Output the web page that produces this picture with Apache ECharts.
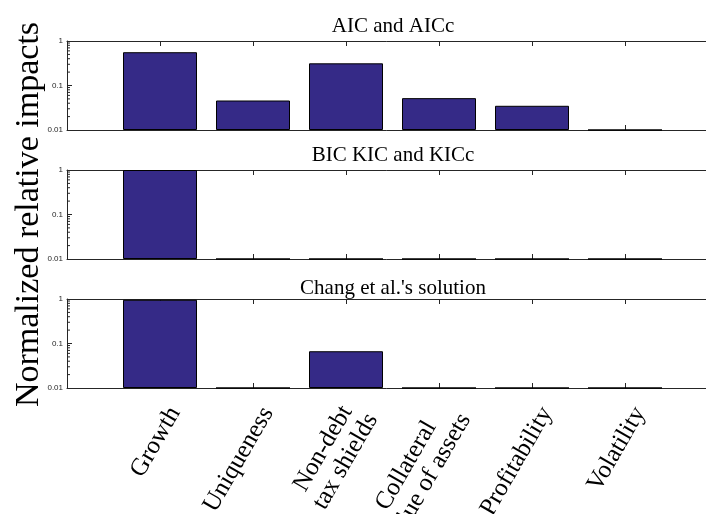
<!DOCTYPE html>
<html>
<head>
<meta charset="utf-8">
<script src="https://cdn.jsdelivr.net/npm/echarts@6/dist/echarts.min.js"></script>
<style>
  html, body { margin: 0; padding: 0; background: #fff; }
  #chart { width: 706px; height: 514px; }
</style>
</head>
<body>
<div id="chart"></div>
<script>
// Factor names (x positions 1..6 on a 0..7 axis)
const categories = ['Growth', 'Uniqueness', 'Non-debt\ntax shields', 'Collateral\nvalue of assets', 'Profitability', 'Volatility'];
const categoryPositions = [1, 2, 3, 4, 5, 6];

// Normalized relative impacts per criterion (0.01 = at the axis floor)
const aicValues   = [0.56, 0.046, 0.315, 0.052, 0.035, 0.01];
const bicValues   = [1.0, 0.01, 0.01, 0.01, 0.01, 0.01];
const changValues = [0.96, 0.01, 0.067, 0.01, 0.01, 0.01];

const panelTitles = ['AIC and AICc', 'BIC KIC and KICc', "Chang et al.'s solution"];
const yTickValues = [0.01, 0.1, 1];
const yAxisTitle = 'Normalized relative impacts';

const panels = [aicValues, bicValues, changValues];

// log-axis minor ticks at 2..9 of each decade
const minorTicks = [];
for (let d = 0.01; d < 1; d *= 10) {
  for (let k = 2; k <= 9; k++) minorTicks.push(+(d * k).toPrecision(3));
}

const AXIS_COLOR = '#262626';
const BAR_COLOR = '#352a87';
const SERIF = 'Liberation Serif';

const gridTops = [41, 170, 299];
const titleTops = [11, 140, 273];
const gridHeight = 89;
// rotated factor names sit a little right of / below their tick
const LABEL_SHIFT = 0.16;

const chart = echarts.init(document.getElementById('chart'), null, { renderer: 'canvas' });

const grid = [], xAxis = [], yAxis = [], series = [], title = [];

panels.forEach((vals, i) => {
  grid.push({
    left: 67, top: gridTops[i], width: 651, height: gridHeight,
    containLabel: false, outerBoundsMode: 'none'
  });

  // bottom border with inward ticks
  xAxis.push({
    type: 'value', gridIndex: i, min: 0, max: 7, interval: 1, position: 'bottom',
    axisLine: { show: true, onZero: false, lineStyle: { color: AXIS_COLOR, width: 1 } },
    axisTick: { show: true, inside: true, length: 5, lineStyle: { color: AXIS_COLOR } },
    splitLine: { show: false },
    axisLabel: { show: false }
  });
  // top border
  xAxis.push({
    type: 'value', gridIndex: i, min: 0, max: 7, interval: 1, position: 'top',
    axisLine: { show: true, onZero: false, lineStyle: { color: AXIS_COLOR, width: 1 } },
    axisTick: { show: true, inside: true, length: 5, lineStyle: { color: AXIS_COLOR } },
    splitLine: { show: false },
    axisLabel: { show: false }
  });

  yAxis.push({
    type: 'log', gridIndex: i, logBase: 10, min: 0.01, max: 1, startValue: 0.01,
    axisLine: { show: true, onZero: false, lineStyle: { color: AXIS_COLOR, width: 1 } },
    axisTick: { show: true, inside: true, length: 5, lineStyle: { color: AXIS_COLOR } },
    splitLine: { show: false },
    axisLabel: {
      fontFamily: 'Liberation Sans', fontSize: 8, color: AXIS_COLOR, margin: 4,
      formatter: v => yTickValues.some(t => Math.abs(t - v) < 1e-9) ? String(v) : ''
    },
    name: i === 1 ? yAxisTitle : '',
    nameLocation: 'middle', nameRotate: 90, nameGap: 21, nameMoveOverlap: false,
    nameTextStyle: { fontFamily: SERIF, fontSize: 34, color: '#000' }
  });

  series.push({
    type: 'bar', xAxisIndex: i * 2, yAxisIndex: i,
    barWidth: 74,
    data: vals.map((v, k) => [categoryPositions[k], v]),
    itemStyle: { color: BAR_COLOR, borderColor: '#000', borderWidth: 1 },
    emphasis: { disabled: true },
    animation: false
  });

  series.push({
    type: 'custom', xAxisIndex: i * 2, yAxisIndex: i,
    data: minorTicks.map(v => [0, v]),
    clip: false, silent: true, animation: false,
    renderItem: (params, api) => {
      const p = api.coord([0, api.value(1)]);
      return {
        type: 'line',
        shape: { x1: p[0], y1: p[1], x2: p[0] + 3, y2: p[1] },
        style: { stroke: AXIS_COLOR, lineWidth: 1 }
      };
    }
  });

  title.push({
    text: panelTitles[i], left: 388, textAlign: 'center',
    top: titleTops[i],
    textStyle: { fontFamily: SERIF, fontSize: 21, fontWeight: 'normal', color: '#000' }
  });
});

// factor names under the last panel; the block is right-anchored, its lines centred
xAxis.push({
  type: 'value', gridIndex: panels.length - 1,
  min: -LABEL_SHIFT, max: 7 - LABEL_SHIFT, position: 'bottom', offset: 19,
  axisLine: { show: false }, axisTick: { show: false }, splitLine: { show: false },
  axisLabel: {
    show: true, rotate: 60, margin: 2, hideOverlap: false,
    customValues: categoryPositions,
    fontFamily: SERIF, fontSize: 25, color: '#000', lineHeight: 26,
    rich: {
      c: { align: 'center', fontFamily: SERIF, fontSize: 25, color: '#000', lineHeight: 26 }
    },
    formatter: v => {
      const k = categoryPositions.findIndex(p => Math.abs(p - v) < 1e-6);
      if (k < 0) return '';
      return categories[k].split('\n').map(s => '{c|' + s + '}').join('\n');
    }
  }
});

chart.setOption({
  backgroundColor: '#fff',
  animation: false,
  title, grid, xAxis, yAxis, series
});
</script>
</body>
</html>
